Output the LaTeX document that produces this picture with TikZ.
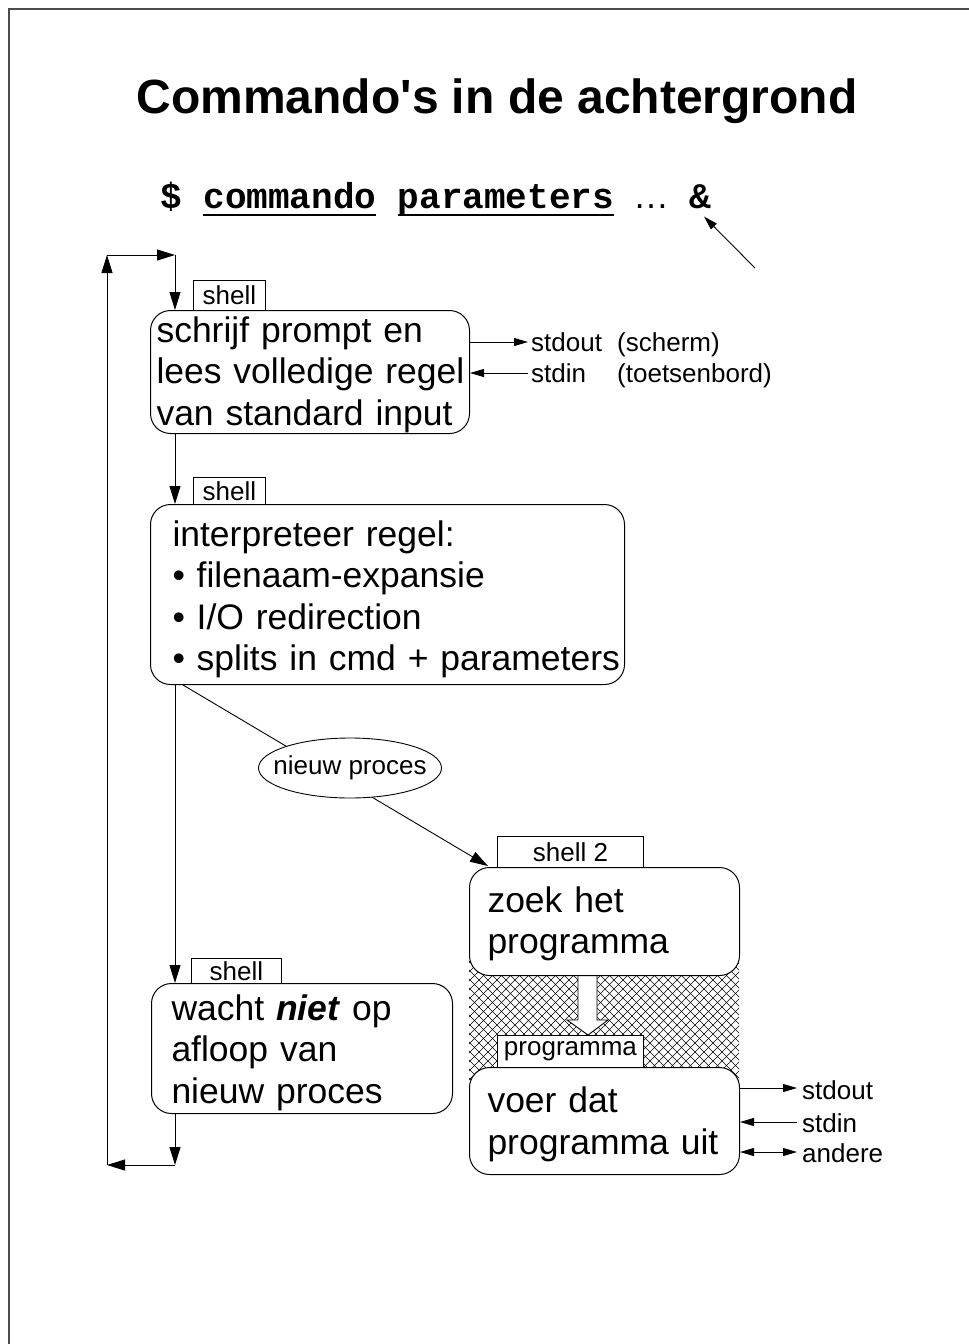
\documentclass[tikz,border=0pt]{standalone}
\usepackage{fontspec}
\setmainfont{Liberation Sans}
\setmonofont{Liberation Mono}
\usetikzlibrary{arrows.meta,shapes.geometric}
\newcommand{\firstline}[1]{\rule{0pt}{#1pt}}
\begin{document}
\begin{tikzpicture}[x=1pt,y=-1pt,
  box/.style={draw, line width=1pt, rounded corners=20pt, fill=white, anchor=north west, align=left, inner ysep=0pt},
  tab/.style={draw, line width=0.9pt, fill=white, anchor=north west, inner sep=0pt, font=\fontsize{26}{30}\selectfont},
  big/.style={font=\fontsize{35.5}{41.5}\selectfont},
  small/.style={font=\fontsize{26}{30}\selectfont, inner sep=0pt, anchor=base west},
  conn/.style={line width=0.9pt, -{Triangle[length=18pt,width=11pt]}},
  sconn/.style={line width=0.9pt, -{Triangle[length=14pt,width=8pt]}},
  dconn/.style={line width=0.9pt, {Triangle[length=14pt,width=8pt]}-{Triangle[length=14pt,width=8pt]}},
  mono/.style={font=\ttfamily\bfseries\fontsize{36}{40}\selectfont, inner sep=0pt, anchor=base west},
]
\useasboundingbox (0,0) rectangle (969,1344);
% frame
\draw[line width=1.2pt, black!70] (9,1344) -- (9,9) -- (969,9);

% title
\node[font=\bfseries\fontsize{48}{56}\selectfont, anchor=base, inner sep=0pt] (title) at (497,113) {Commando\textquotesingle s in de achtergrond};

% command line
\node[mono] (dollar) at (160,208) {\$};
\node[mono] (cmd) at (203.2,208) {commando};
\node[mono] (par) at (397.6,208) {parameters};
\node[font=\fontsize{36}{40}\selectfont, inner sep=0pt, anchor=base west] (dots) at (633,208) {…};
\node[mono] (amp) at (689,208) {\&};
\draw[line width=2.5pt] ([yshift=-7pt]cmd.base west) -- ([yshift=-7pt]cmd.base east);
\draw[line width=2.5pt] ([yshift=-7pt]par.base west) -- ([yshift=-7pt]par.base east);
\coordinate (ampt) at (755,268);
\draw[sconn] (ampt) -- ([xshift=4pt,yshift=-8pt]amp.south);

% hatch region between shell 2 boxes
\begin{scope}
  \clip (469,945) rectangle (739,1092);
  \foreach \x in {300,309,...,740} { \draw[line width=0.6pt] (\x,945) -- ++(160,160); }
  \foreach \x in {469,478,...,910} { \draw[line width=0.6pt] (\x,945) -- ++(-160,160); }
\end{scope}
% hollow block arrow
\draw[line width=0.9pt, fill=white] (578,972) -- (578,1020) -- (567,1020) -- (588,1035) -- (608,1020) -- (597,1020) -- (597,972) -- cycle;

% boxes
\node[box, big, minimum height=123pt, text width=307pt, inner xsep=6pt] (b1) at (150,310)
  {\mbox{\firstline{31}schrijf prompt en}\\\mbox{lees volledige regel}\\\mbox{van standard input}};
\node[box, big, minimum height=180pt, text width=430pt, inner xsep=22pt] (b2) at (150,504)
  {\mbox{\firstline{35}interpreteer regel:}\\\mbox{• filenaam-expansie}\\\mbox{• I/O redirection}\\\mbox{• splits in cmd + parameters}};
\node[box, big, minimum height=130pt, text width=261pt, inner xsep=20pt] (b3) at (151,983)
  {\mbox{\firstline{34}wacht \textbf{\textit{niet}} op}\\\mbox{afloop van}\\\mbox{nieuw proces}};
\node[box, big, minimum height=108pt, text width=234pt, inner xsep=18pt] (b4) at (469,867)
  {\mbox{\firstline{30}zoek het}\\\mbox{programma}};
\node[box, big, minimum height=107pt, text width=234pt, inner xsep=18pt] (b5) at (469,1067)
  {\mbox{\firstline{32}voer dat}\\\mbox{programma uit}};

% tabs
\node[tab, minimum width=72pt, minimum height=30pt] (t1) at (193,280) {shell};
\node[tab, minimum width=72pt, minimum height=27pt] (t2) at (193,477) {shell};
\node[tab, minimum width=90pt, minimum height=25pt] (t3) at (191,958) {shell};
\node[tab, minimum width=146pt, minimum height=31pt] (t4) at (497,836) {shell 2};
\node[tab, minimum width=146pt, minimum height=32pt] (t5) at (497,1035) {programma};

% loop connectors
\coordinate (tl) at (107,255);
\coordinate (tr) at (175,255);
\coordinate (bl) at (107,1165);
\coordinate (br) at (175,1165);
\draw[conn] (tr |- b3.south) -- (br);
\draw[conn] (br) -- (bl);
\draw[conn] (bl) -- (tl);
\draw[conn] (tl) -- (tr);
\draw[conn] (tr) -- (tr |- b1.north);
\draw[conn] (tr |- b1.south) -- (tr |- b2.north);
\draw[conn] (tr |- b2.south) -- (tr |- b3.north);

% new process
\coordinate (d0) at ([xshift=33pt]b2.south west);
\coordinate (d1) at ([xshift=19pt,yshift=1pt]b4.north west);
\draw[conn] (d0) -- (d1);
\node[draw, ellipse, line width=0.9pt, fill=white, minimum width=183pt, minimum height=60pt, inner sep=0pt, font=\fontsize{26}{30}\selectfont] (np) at (350,768) {\makebox[110pt]{nieuw proces}};

% stdin/stdout of shell
\coordinate (so) at (528,342);
\coordinate (si) at (528,373);
\draw[sconn] (so -| b1.east) -- (so);
\draw[sconn] (si) -- (si -| b1.east);
\node[small] (so1) at (531,351) {stdout};
\node[small] (so2) at (617,351) {(scherm)};
\node[small] (si1) at (531,382) {stdin};
\node[small] (si2) at (617,382) {(toetsenbord)};

% stdin/stdout of program
\coordinate (po) at (797,1088);
\coordinate (pi) at (797,1122);
\coordinate (pa) at (797,1152);
\draw[sconn] (po -| b5.east) -- (po);
\draw[sconn] (pi) -- (pi -| b5.east);
\draw[dconn] (pa -| b5.east) -- (pa);
\node[small] (po1) at (802,1099) {stdout};
\node[small] (pi1) at (802,1132) {stdin};
\node[small] (pa1) at (802,1162) {andere};
\end{tikzpicture}
\end{document}
